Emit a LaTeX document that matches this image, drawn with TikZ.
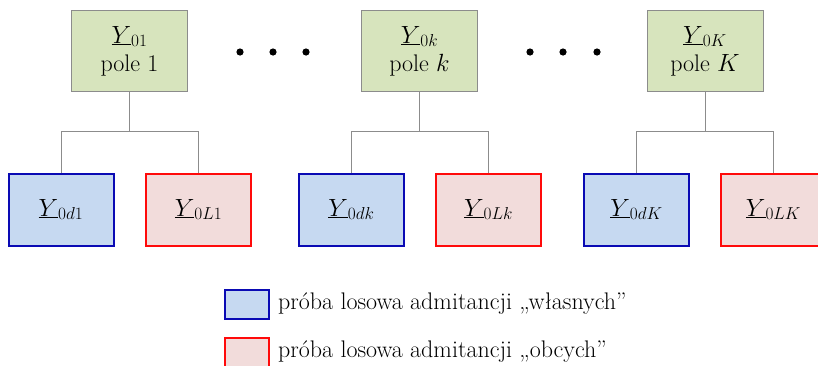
\documentclass[tikz,border=0pt]{standalone}
\usepackage{fontspec}
\definecolor{topfill}{HTML}{D7E4BD}
\definecolor{topdraw}{HTML}{8C8C8C}
\definecolor{bluefill}{HTML}{C6D9F1}
\definecolor{bluedraw}{HTML}{0A0AB4}
\definecolor{redfill}{HTML}{F2DCDB}
\definecolor{reddraw}{HTML}{FF0A0A}
\definecolor{conncol}{HTML}{8C8C8C}
\tikzset{
  topbox/.style={draw=topdraw, fill=topfill, line width=1pt, minimum width=116pt, minimum height=81pt, align=center, inner sep=0pt},
  ownbox/.style={draw=bluedraw, fill=bluefill, line width=2pt, minimum width=105pt, minimum height=72pt, inner sep=0pt},
  foreignbox/.style={draw=reddraw, fill=redfill, line width=2pt, minimum width=105pt, minimum height=72pt, inner sep=0pt},
  ownkey/.style={draw=bluedraw, fill=bluefill, line width=2pt, minimum width=44pt, minimum height=29pt, inner sep=0pt},
  foreignkey/.style={draw=reddraw, fill=redfill, line width=2pt, minimum width=44pt, minimum height=29pt, inner sep=0pt},
  conn/.style={draw=conncol, line width=1pt},
  keytext/.style={anchor=west, inner sep=0pt},
  dotmark/.style={fill=black}
}
\begin{document}
\begin{tikzpicture}[x=1pt,y=-1pt,font=\fontsize{24}{24}\selectfont]
\useasboundingbox (0,0) rectangle (818,365);
% top boxes
\node[topbox] (t1) at (129.5,51) {$\underline{Y}_{01}$\\[4pt]pole 1};
\node[topbox] (tk) at (419.5,51) {$\underline{Y}_{0k}$\\[4pt]pole $k$};
\node[topbox] (tK) at (705,51) {$\underline{Y}_{0K}$\\[4pt]pole $K$};
% dots
\foreach \x in {240,273,306,530,563,597} \fill[dotmark] (\x,52) circle (3.6);
% bottom boxes
\node[ownbox] (b1) at (61,209.5) {$\underline{Y}_{0d1}$};
\node[foreignbox] (r1) at (198.5,209.5) {$\underline{Y}_{0L1}$};
\node[ownbox] (bk) at (351.5,209.5) {$\underline{Y}_{0dk}$};
\node[foreignbox] (rk) at (488.5,209.5) {$\underline{Y}_{0Lk}$};
\node[ownbox] (bK) at (636.5,209.5) {$\underline{Y}_{0dK}$};
\node[foreignbox] (rK) at (773.5,209.5) {$\underline{Y}_{0LK}$};
% junctions
\coordinate (j1) at (129.5,131.5);
\coordinate (jk) at (419.5,131.5);
\coordinate (jK) at (705,131.5);
% connectors
\draw[conn] (t1.south) -- (j1);
\draw[conn] (b1.north) |- (j1) -| (r1.north);
\draw[conn] (tk.south) -- (jk);
\draw[conn] (bk.north) |- (jk) -| (rk.north);
\draw[conn] (tK.south) -- (jK);
\draw[conn] (bK.north) |- (jK) -| (rK.north);
% legend
\node[ownkey] (k1) at (246.5,304) {};
\node[foreignkey] (k2) at (246.5,352) {};
\node[keytext] (l1) at (278,304) {próba losowa admitancji „własnych”};
\node[keytext] (l2) at (278,352) {próba losowa admitancji „obcych”};
\end{tikzpicture}
\end{document}
